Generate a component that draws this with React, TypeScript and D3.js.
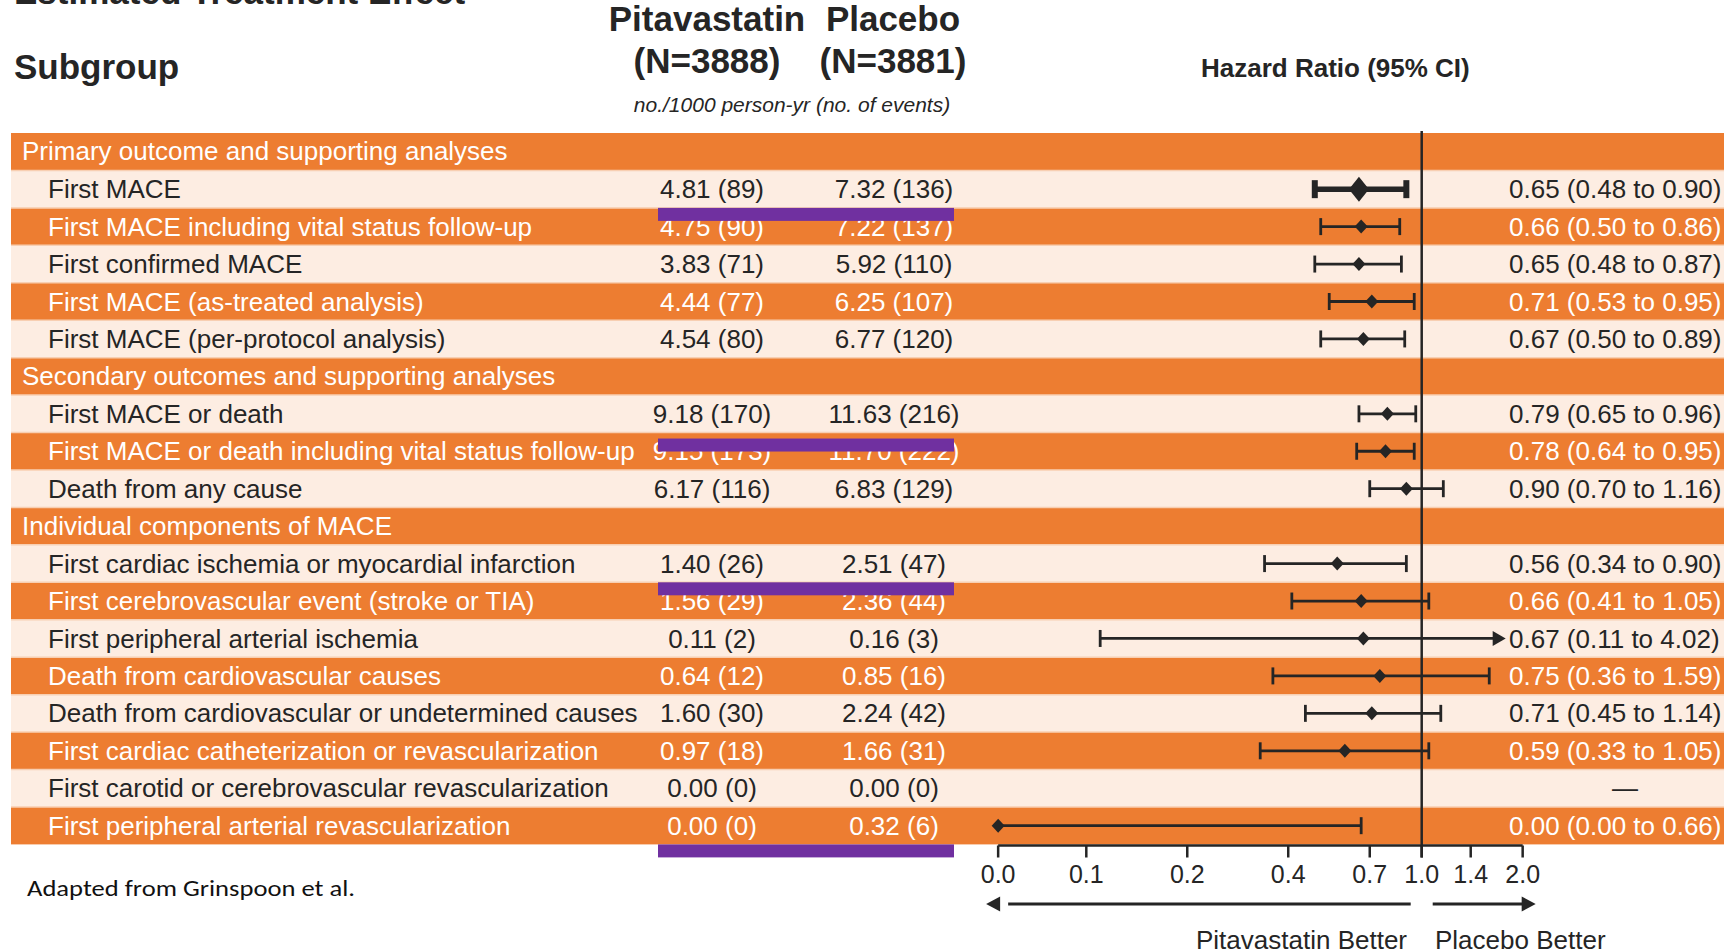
import React from "react";
import * as d3 from "d3";

// ---- data ----
const sections = [
  "Primary outcome and supporting analyses",
  "Secondary outcomes and supporting analyses",
  "Individual components of MACE",
];

const subgroups = [
  "First MACE",
  "First MACE including vital status follow-up",
  "First confirmed MACE",
  "First MACE (as-treated analysis)",
  "First MACE (per-protocol analysis)",
  "First MACE or death",
  "First MACE or death including vital status follow-up",
  "Death from any cause",
  "First cardiac ischemia or myocardial infarction",
  "First cerebrovascular event (stroke or TIA)",
  "First peripheral arterial ischemia",
  "Death from cardiovascular causes",
  "Death from cardiovascular or undetermined causes",
  "First cardiac catheterization or revascularization",
  "First carotid or cerebrovascular revascularization",
  "First peripheral arterial revascularization",
];
const sectionOf = [0, 0, 0, 0, 0, 1, 1, 1, 2, 2, 2, 2, 2, 2, 2, 2];

const pitaRate = [4.81, 4.75, 3.83, 4.44, 4.54, 9.18, 9.15, 6.17, 1.4, 1.56, 0.11, 0.64, 1.6, 0.97, 0.0, 0.0];
const pitaEvents = [89, 90, 71, 77, 80, 170, 173, 116, 26, 29, 2, 12, 30, 18, 0, 0];
const placRate = [7.32, 7.22, 5.92, 6.25, 6.77, 11.63, 11.7, 6.83, 2.51, 2.36, 0.16, 0.85, 2.24, 1.66, 0.0, 0.32];
const placEvents = [136, 137, 110, 107, 120, 216, 222, 129, 47, 44, 3, 16, 42, 31, 0, 6];

const hr = [0.65, 0.66, 0.65, 0.71, 0.67, 0.79, 0.78, 0.9, 0.56, 0.66, 0.67, 0.75, 0.71, 0.59, null, 0.0];
const hrLow = [0.48, 0.5, 0.48, 0.53, 0.5, 0.65, 0.64, 0.7, 0.34, 0.41, 0.11, 0.36, 0.45, 0.33, null, 0.0];
const hrHigh = [0.9, 0.86, 0.87, 0.95, 0.89, 0.96, 0.95, 1.16, 0.9, 1.05, 4.02, 1.59, 1.14, 1.05, null, 0.66];

const axisTicks = [0, 0.1, 0.2, 0.4, 0.7, 1.0, 1.4, 2.0];
const tickLabels = ["0.0", "0.1", "0.2", "0.4", "0.7", "1.0", "1.4", "2.0"];

// rows whose lower edge carries a purple highlight bar
const highlightRows = [0, 5, 8, 15];

// ---- styling ----
const ORANGE = "#ED7D31";
const LIGHT = "#FDEDE2";
const INK = "#252525";
const PURPLE = "#7030A0";
const FONT = "'Liberation Sans', Arial, Helvetica, sans-serif";

const ZERO_AT = 0.0546; // where "0.0" sits on the broken log axis
const CLIP = 1.78; // CIs beyond this get an arrow

export default function App() {
  const W = 1724;
  const H = 952;

  type Line = { kind: "section"; text: string } | { kind: "row"; i: number; k: number };
  const lines: Line[] = [];
  sections.forEach((s, si) => {
    lines.push({ kind: "section", text: s });
    let k = 0;
    subgroups.forEach((_, i) => {
      if (sectionOf[i] === si) lines.push({ kind: "row", i, k: k++ });
    });
  });

  const y = d3.scaleBand<number>().domain(d3.range(lines.length)).range([133, 844.4]);
  const bh = y.bandwidth();
  const x = d3.scaleLog().domain([0.1, 1]).range([1086.3, 1421.7]);
  const hx = (v: number) => x(Math.max(v, ZERO_AT));

  const pitaX = 712;
  const placX = 894;
  const ciX = 1509;
  const axisY = 845.5;
  const fmt = d3.format(".2f");

  const lineOf = (i: number) => lines.findIndex((l) => l.kind === "row" && l.i === i);

  return (
    <svg
      width={W}
      height={H}
      style={{ position: "absolute", left: 0, top: 0, background: "#fff" }}
      fontFamily={FONT}
    >
      <rect width={W} height={H} fill="#fff" />

      {/* headings */}
      <text x={14} y={4} fontSize={35} fontWeight="bold" fill={INK}>
        Estimated Treatment Effect
      </text>
      <text x={14} y={79} fontSize={35} fontWeight="bold" fill={INK}>
        Subgroup
      </text>
      <text x={707} y={31} fontSize={35} fontWeight="bold" fill={INK} textAnchor="middle">
        Pitavastatin
      </text>
      <text x={893} y={31} fontSize={35} fontWeight="bold" fill={INK} textAnchor="middle">
        Placebo
      </text>
      <text x={707} y={73} fontSize={35} fontWeight="bold" fill={INK} textAnchor="middle">
        (N=3888)
      </text>
      <text x={893} y={73} fontSize={35} fontWeight="bold" fill={INK} textAnchor="middle">
        (N=3881)
      </text>
      <text x={792} y={112} fontSize={21} fontStyle="italic" fill={INK} textAnchor="middle">
        no./1000 person-yr (no. of events)
      </text>
      <text x={1201} y={77} fontSize={26} fontWeight="bold" fill={INK}>
        Hazard Ratio (95% CI)
      </text>

      {/* table bands */}
      {lines.map((l, j) => {
        const fill = l.kind === "section" || l.k % 2 === 1 ? ORANGE : LIGHT;
        return <rect key={"b" + j} x={11} y={y(j)} width={W - 11} height={bh} fill={fill} />;
      })}
      {lines.slice(1).map((_, j) => (
        <line
          key={"s" + j}
          x1={11}
          x2={W}
          y1={y(j + 1)}
          y2={y(j + 1)}
          stroke="#F8CFB2"
          strokeWidth={1.5}
        />
      ))}

      {/* table text */}
      {lines.map((l, j) => {
        const cy = (y(j) as number) + bh / 2;
        if (l.kind === "section") {
          return (
            <text key={"t" + j} x={22} y={cy} dy="0.33em" fontSize={26} fill="#fff">
              {l.text}
            </text>
          );
        }
        const i = l.i;
        const col = l.k % 2 === 1 ? "#fff" : INK;
        const ci =
          hr[i] == null
            ? null
            : `${fmt(hr[i] as number)} (${fmt(hrLow[i] as number)} to ${fmt(hrHigh[i] as number)})`;
        return (
          <g key={"t" + j} fill={col} fontSize={26}>
            <text x={48} y={cy} dy="0.35em">
              {subgroups[i]}
            </text>
            <text x={pitaX} y={cy} dy="0.35em" textAnchor="middle">
              {`${fmt(pitaRate[i])} (${pitaEvents[i]})`}
            </text>
            <text x={placX} y={cy} dy="0.35em" textAnchor="middle">
              {`${fmt(placRate[i])} (${placEvents[i]})`}
            </text>
            {ci ? (
              <text x={ciX} y={cy} dy="0.35em">
                {ci}
              </text>
            ) : (
              <text x={1625} y={cy} dy="0.35em" textAnchor="middle">
                —
              </text>
            )}
          </g>
        );
      })}

      {/* reference line at HR = 1 */}
      <line x1={x(1)} x2={x(1)} y1={131} y2={axisY + 12} stroke={INK} strokeWidth={2.5} />

      {/* CI bars */}
      {subgroups.map((_, i) => {
        if (hr[i] == null) return null;
        const j = lineOf(i);
        const cy = (y(j) as number) + bh / 2;
        const bold = i === 0;
        const sw = bold ? 5.5 : 2.8;
        const capW = bold ? 6 : 2.8;
        const capH = bold ? 9 : 8.5;
        const lo = hx(hrLow[i] as number);
        const clipped = (hrHigh[i] as number) > CLIP;
        const hi = clipped ? x(CLIP) : hx(hrHigh[i] as number);
        const c = hx(hr[i] as number);
        const dw = bold ? 10 : 6.5;
        const dh = bold ? 12.5 : 7;
        return (
          <g key={"ci" + i} stroke={INK} fill={INK}>
            <line x1={lo} x2={clipped ? hi - 10 : hi} y1={cy} y2={cy} strokeWidth={sw} />
            {(hrLow[i] as number) > 0 && (
              <line x1={lo} x2={lo} y1={cy - capH} y2={cy + capH} strokeWidth={capW} />
            )}
            {!clipped && <line x1={hi} x2={hi} y1={cy - capH} y2={cy + capH} strokeWidth={capW} />}
            {clipped && (
              <path d={`M${hi},${cy} L${hi - 13},${cy - 7.5} L${hi - 13},${cy + 7.5} Z`} stroke="none" />
            )}
            <path
              d={`M${c - dw},${cy} L${c},${cy - dh} L${c + dw},${cy} L${c},${cy + dh} Z`}
              stroke="none"
            />
          </g>
        );
      })}

      {/* purple highlight bars */}
      {highlightRows.map((i, n) => {
        const j = lineOf(i);
        const top = (y(j) as number) + bh + (n === 1 ? 6 : 0);
        return <rect key={"p" + n} x={658} y={top} width={296} height={13} fill={PURPLE} />;
      })}

      {/* axis */}
      <line x1={hx(0)} x2={x(2)} y1={axisY} y2={axisY} stroke={INK} strokeWidth={2.5} />
      {axisTicks.map((t, n) => (
        <g key={"k" + n}>
          <line x1={hx(t)} x2={hx(t)} y1={axisY} y2={axisY + 12} stroke={INK} strokeWidth={2.5} />
          <text x={hx(t)} y={883} fontSize={25} fill={INK} textAnchor="middle">
            {tickLabels[n]}
          </text>
        </g>
      ))}

      {/* direction arrows */}
      <g stroke={INK} fill={INK}>
        <line x1={hx(0) + 10} x2={x(1) - 11} y1={904} y2={904} strokeWidth={3} />
        <path d={`M${hx(0) - 12},904 L${hx(0) + 2},896.5 L${hx(0) + 2},911.5 Z`} stroke="none" />
        <line x1={x(1) + 11} x2={x(2) + 1} y1={904} y2={904} strokeWidth={3} />
        <path d={`M${x(2) + 13},904 L${x(2) - 1},896.5 L${x(2) - 1},911.5 Z`} stroke="none" />
      </g>
      <text x={1407} y={949} fontSize={26} fill={INK} textAnchor="end">
        Pitavastatin Better
      </text>
      <text x={1435} y={949} fontSize={26} fill={INK}>
        Placebo Better
      </text>

      <text
        x={27}
        y={896}
        fontSize={23}
        fill="#111"
        fontFamily="Carlito, Lato, 'Open Sans', sans-serif"
        textLength={328}
        lengthAdjust="spacingAndGlyphs"
      >
        Adapted from Grinspoon et al.
      </text>
    </svg>
  );
}
